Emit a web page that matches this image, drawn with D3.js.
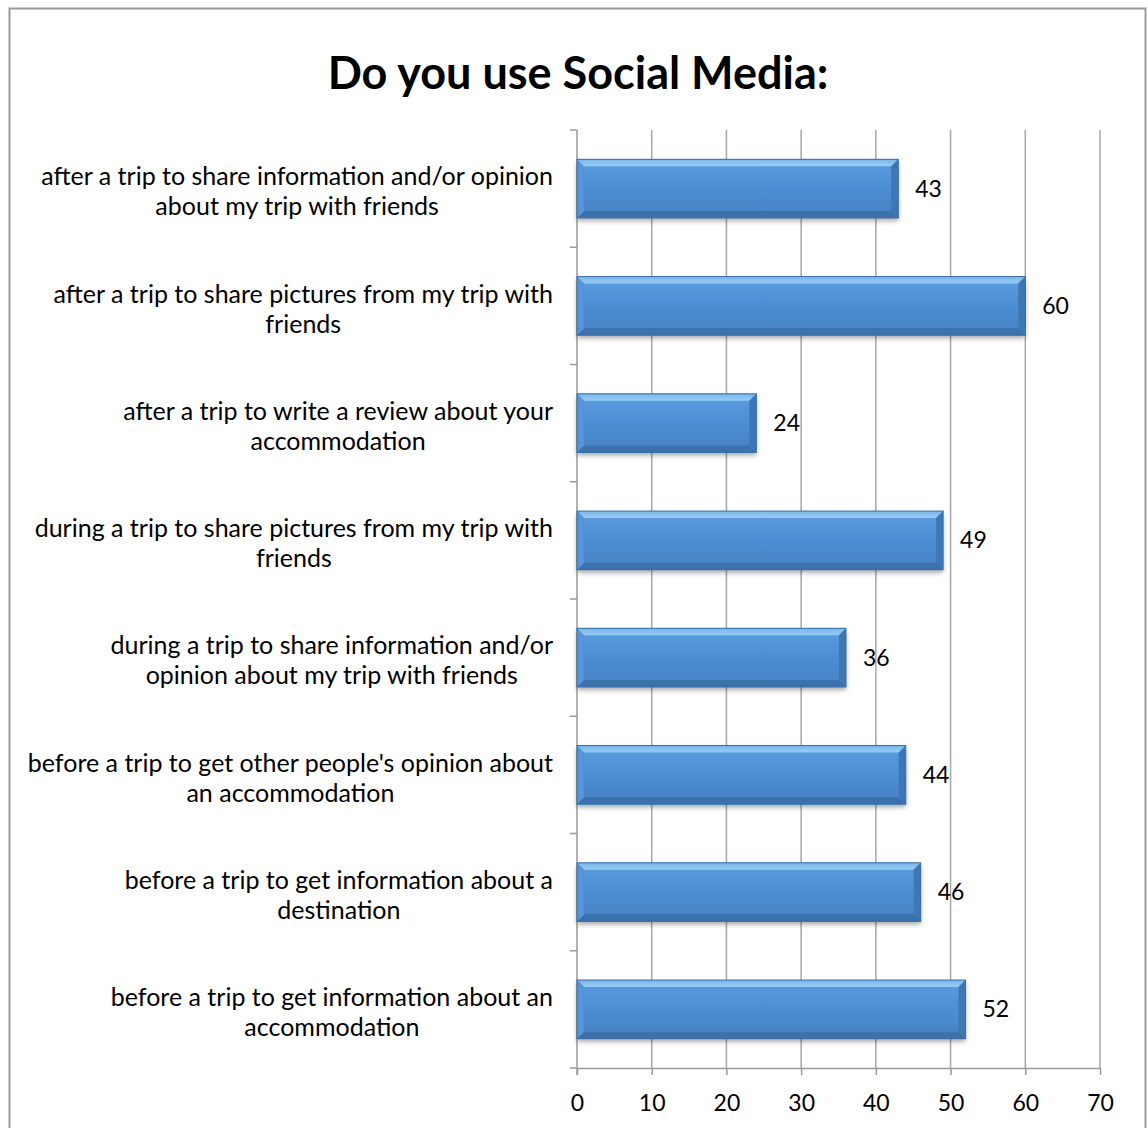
<!DOCTYPE html>
<html>
<head>
<meta charset="utf-8">
<script src="https://cdn.jsdelivr.net/npm/d3@7"></script>
<style>
  html, body { margin: 0; padding: 0; background: #fff; }
  svg { display: block; }
</style>
</head>
<body>
<svg id="chart" width="1148" height="1128"></svg>
<script>
// Survey answers, listed top to bottom
const categories = [
  ["after a trip to share information and/or opinion", "about my trip with friends"],
  ["after a trip to share pictures from my trip with", "friends"],
  ["after a trip to write a review about your", "accommodation"],
  ["during a trip to share pictures from my trip with", "friends"],
  ["during a trip to share information and/or", "opinion about my trip with friends"],
  ["before a trip to get other people's opinion about", "an accommodation"],
  ["before a trip to get information about a", "destination"],
  ["before a trip to get information about an", "accommodation"]
];
const values = [43, 60, 24, 49, 36, 44, 46, 52];
const xTicks = [0, 10, 20, 30, 40, 50, 60, 70];
const title = "Do you use Social Media:";

const svg = d3.select("#chart");
const font = "Lato, 'Open Sans', sans-serif";

// Chart frame
svg.append("rect")
  .attr("x", 9.5).attr("y", 8.5)
  .attr("width", 1136).attr("height", 1125)
  .attr("fill", "#fff").attr("stroke", "#9a9a9a").attr("stroke-width", 2);

// Title
svg.append("text")
  .attr("x", 578).attr("y", 89)
  .attr("text-anchor", "middle")
  .attr("font-family", font).attr("font-weight", "bold")
  .attr("font-size", 45).attr("fill", "#000")
  .text(title);

const plot = { left: 577, right: 1100, top: 130, bottom: 1068 };

const x = d3.scaleLinear().domain([0, 70]).range([plot.left, plot.right]);
const y = d3.scaleBand()
  .domain(d3.range(categories.length))
  .range([plot.top, plot.bottom])
  .paddingInner(0.5).paddingOuter(0.25);

// Vertical gridlines
svg.append("g")
  .selectAll("line")
  .data(xTicks.filter(d => d > 0))
  .join("line")
  .attr("x1", d => x(d)).attr("x2", d => x(d))
  .attr("y1", plot.top).attr("y2", plot.bottom)
  .attr("stroke", "#a6a6a6").attr("stroke-width", 1.5);

// Bottom value axis
const xAxis = svg.append("g")
  .attr("transform", `translate(0,${plot.bottom})`)
  .call(d3.axisBottom(x).tickValues(xTicks).tickSize(7).tickPadding(20).tickSizeOuter(0));
xAxis.select(".domain").attr("stroke", "#9a9a9a").attr("stroke-width", 1.5);
xAxis.selectAll(".tick line").attr("stroke", "#9a9a9a").attr("stroke-width", 1.5);
xAxis.selectAll(".tick text")
  .attr("font-family", font).attr("font-size", 23).attr("fill", "#000");

// Left category axis: line plus ticks at band boundaries
const bounds = d3.range(categories.length + 1).map(i => plot.top + i * y.step());
svg.append("line")
  .attr("x1", plot.left).attr("x2", plot.left)
  .attr("y1", plot.top).attr("y2", plot.bottom + 7)
  .attr("stroke", "#9a9a9a").attr("stroke-width", 1.5);
svg.append("g").selectAll("line")
  .data(bounds)
  .join("line")
  .attr("x1", plot.left - 7).attr("x2", plot.left)
  .attr("y1", d => d).attr("y2", d => d)
  .attr("stroke", "#9a9a9a").attr("stroke-width", 1.5);

// Bar gradients
const defs = svg.append("defs");
const g1 = defs.append("linearGradient").attr("id", "barFace")
  .attr("x1", 0).attr("y1", 0).attr("x2", 0).attr("y2", 1);
g1.append("stop").attr("offset", "0%").attr("stop-color", "#5a9ddf");
g1.append("stop").attr("offset", "50%").attr("stop-color", "#4c8ed3");
g1.append("stop").attr("offset", "100%").attr("stop-color", "#4680c2");
const gTop = defs.append("linearGradient").attr("id", "barTop")
  .attr("x1", 0).attr("y1", 0).attr("x2", 0).attr("y2", 1);
gTop.append("stop").attr("offset", "0%").attr("stop-color", "#7ab6ea");
gTop.append("stop").attr("offset", "100%").attr("stop-color", "#98ccf5");
const shadow = defs.append("filter").attr("id", "shadow")
  .attr("x", "-5%").attr("y", "-20%").attr("width", "110%").attr("height", "150%");
shadow.append("feGaussianBlur").attr("in", "SourceAlpha").attr("stdDeviation", 2.5);
shadow.append("feOffset").attr("dx", 0).attr("dy", 3).attr("result", "b");
shadow.append("feComponentTransfer").append("feFuncA").attr("type", "linear").attr("slope", 0.35);
const merge = shadow.append("feMerge");
merge.append("feMergeNode");
merge.append("feMergeNode").attr("in", "SourceGraphic");

const bev = 7;
const bars = svg.append("g").selectAll("g")
  .data(values)
  .join("g")
  .attr("transform", (d, i) => `translate(${x(0)},${y(i)})`);

const h = y.bandwidth();
bars.append("rect")
  .attr("width", d => x(d) - x(0)).attr("height", h)
  .attr("fill", "url(#barFace)").attr("filter", "url(#shadow)");
// top bevel
bars.append("path")
  .attr("d", d => { const w = x(d) - x(0); return `M0,0H${w}L${w - bev},${bev}H${bev}Z`; })
  .attr("fill", "url(#barTop)");
// bottom bevel
bars.append("path")
  .attr("d", d => { const w = x(d) - x(0); return `M0,${h}H${w}L${w - bev},${h - bev}H${bev}Z`; })
  .attr("fill", "#3b72ad");
// left bevel
bars.append("path")
  .attr("d", `M0,0L${bev},${bev}V${h - bev}L0,${h}Z`)
  .attr("fill", "#5696d8");
// right bevel
bars.append("path")
  .attr("d", d => { const w = x(d) - x(0); return `M${w},0L${w - bev},${bev}V${h - bev}L${w},${h}Z`; })
  .attr("fill", "#3e77b3");
bars.append("rect")
  .attr("width", d => x(d) - x(0)).attr("height", h)
  .attr("fill", "none").attr("stroke", "#3a6da6").attr("stroke-width", 1);

// Value labels
bars.append("text")
  .attr("x", d => x(d) - x(0) + 17).attr("y", h / 2)
  .attr("dy", "0.35em")
  .attr("font-family", font).attr("font-size", 23).attr("fill", "#000")
  .text(d => d);

// Category labels, two centred lines right-aligned against the axis
const labels = svg.append("g").selectAll("text")
  .data(categories)
  .join("text")
  .attr("font-family", font).attr("font-size", 25).attr("fill", "#000")
  .attr("transform", (d, i) => `translate(0,${y(i) + h / 2 + 3})`);
labels.selectAll("tspan")
  .data(d => d)
  .join("tspan")
  .attr("y", (d, j, n) => (j - (n.length - 1) / 2) * 30)
  .attr("dy", "0.35em")
  .attr("text-anchor", "middle")
  .text(d => d);

labels.each(function() {
  const spans = d3.select(this).selectAll("tspan");
  let maxW = 0;
  spans.each(function() { maxW = Math.max(maxW, this.getComputedTextLength()); });
  spans.attr("x", 553 - maxW / 2);
});
</script>
</body>
</html>
